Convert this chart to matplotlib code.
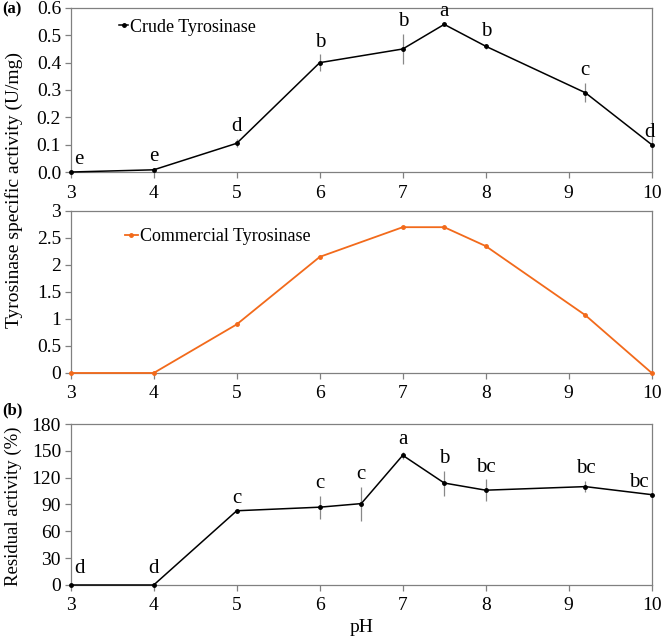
import matplotlib
matplotlib.use("Agg")
import matplotlib.pyplot as plt
import matplotlib.ticker as mticker
from matplotlib.lines import Line2D

plt.rcParams['font.family'] = ['Liberation Serif', 'DejaVu Serif']

ph_a = [3, 4, 5, 6, 7, 7.5, 8, 9.2, 10]
crude = [0.0, 0.008, 0.105, 0.40, 0.45, 0.54, 0.46, 0.29, 0.10]
crude_err = [0.0, 0.005, 0.015, 0.03, 0.055, 0.004, 0.01, 0.035, 0.0]
crude_letters = ['e', 'e', 'd', 'b', 'b', 'a', 'b', 'c', 'd']

commercial = [0.0, 0.0, 0.9, 2.15, 2.7, 2.7, 2.35, 1.07, 0.0]

ph_b = [3, 4, 5, 6, 6.5, 7, 7.5, 8, 9.2, 10]
residual = [0, 0, 83, 87, 91, 145, 114, 106, 110, 101]
residual_err = [0, 0, 0, 13, 19, 4, 14, 12, 6, 0]
residual_letters = ['d', 'd', 'c', 'c', 'c', 'a', 'b', 'bc', 'bc', 'bc']

fig = plt.figure(figsize=(6.61, 6.38), dpi=100)
L, W = 0.107, 0.879
ax1 = fig.add_axes([L, 0.7304, W, 0.2571])
ax2 = fig.add_axes([L, 0.4154, W, 0.2539])
ax3 = fig.add_axes([L, 0.0831, W, 0.2523])

spine_c = '#808080'
fs = 14
lfs = 15
orange = '#F26A1B'

def style(ax):
    for s in ax.spines.values():
        s.set_color(spine_c)
        s.set_linewidth(0.9)
    ax.set_xlim(3, 10)
    ax.set_xticks([3, 4, 5, 6, 7, 8, 9, 10])
    ax.tick_params(axis='both', labelsize=fs, direction='out', length=4, color=spine_c, width=0.9)
    ax.tick_params(axis='x', pad=5)
    ax.tick_params(axis='y', pad=3)

# Panel (a) crude
ax1.errorbar(ph_a, crude, yerr=crude_err, color='black', lw=1.1, marker='o', ms=2.5,
             ecolor='#888888', elinewidth=0.9, capsize=0, clip_on=False, zorder=3)
ax1.set_ylim(0, 0.6)
ax1.set_yticks([0, 0.1, 0.2, 0.3, 0.4, 0.5, 0.6])
ax1.yaxis.set_major_formatter(mticker.FormatStrFormatter('%.1f'))
for x, y, e, t in zip(ph_a, crude, crude_err, crude_letters):
    dx = 0.1 if x == 3 else (-0.03 if x == 10 else 0)
    ax1.annotate(t, (x + dx, y + e), xytext=(0, 2), textcoords='offset points',
                 ha='center', va='bottom', fontsize=lfs, annotation_clip=False)
style(ax1)
h1 = Line2D([], [], color='black', lw=1.1, marker='o', ms=2.5)
ax1.legend([h1], ['Crude Tyrosinase'], loc='upper left', bbox_to_anchor=(0.065, 1.0),
           frameon=False, fontsize=13, handlelength=0.5, handletextpad=0.1, borderaxespad=0.2)

# Commercial
ax2.plot(ph_a, commercial, color=orange, lw=1.3, marker='o', ms=2.5,
         clip_on=False, zorder=3)
ax2.set_ylim(0, 3)
ax2.set_yticks([0, 0.5, 1, 1.5, 2, 2.5, 3])
ax2.yaxis.set_major_formatter(mticker.FuncFormatter(lambda v, p: ('%g' % v)))
style(ax2)
h2 = Line2D([], [], color=orange, lw=1.3, marker='o', ms=2.5)
ax2.legend([h2], ['Commercial Tyrosinase'], loc='upper left', bbox_to_anchor=(0.075, 0.96),
           frameon=False, fontsize=13, handlelength=0.7, handletextpad=0.1, borderaxespad=0.2)

fig.text(0.021, (0.9875 + 0.4154) / 2, 'Tyrosinase specific activity (U/mg)', rotation=90,
         ha='center', va='center', fontsize=fs)

# Panel (b)
ax3.errorbar(ph_b, residual, yerr=residual_err, color='black', lw=1.1, marker='o', ms=2.5,
             ecolor='#888888', elinewidth=0.9, capsize=0, clip_on=False, zorder=3)
ax3.set_ylim(0, 180)
ax3.set_yticks(range(0, 181, 30))
for x, y, e, t in zip(ph_b, residual, residual_err, residual_letters):
    dx = 0.1 if x == 3 else (-0.15 if x == 10 else 0)
    dy = 2 if x not in (3, 4) else 5
    ax3.annotate(t, (x + dx, y + e), xytext=(0, dy), textcoords='offset points',
                 ha='center', va='bottom', fontsize=lfs, annotation_clip=False)
style(ax3)
ax3.set_xlabel('pH', fontsize=fs, labelpad=3)
ax3.set_ylabel('Residual activity (%)', fontsize=13.5)
ax3.yaxis.set_label_coords(-0.084, 0.49)

fig.text(0.003, 0.985, '(a)', fontsize=12, fontweight='bold', ha='left', va='center')
fig.text(0.003, 0.356, '(b)', fontsize=12, fontweight='bold', ha='left', va='center')

fig.savefig('out.png', dpi=100)
